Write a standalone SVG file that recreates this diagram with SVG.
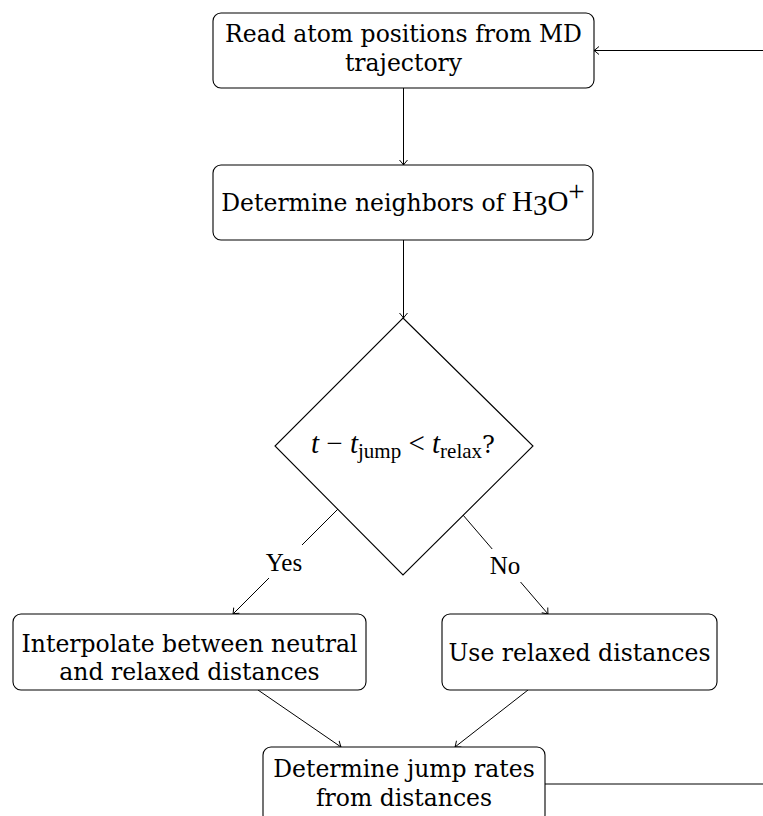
<svg xmlns="http://www.w3.org/2000/svg" width="763" height="816" viewBox="0 0 763 816">
<defs>
<style>
.node{fill:#fff;stroke:#000;stroke-width:1.1}
.lbl{font-family:"DejaVu Serif",serif;font-size:23.5px;fill:#000;text-anchor:middle}
.yn{font-family:"Liberation Serif",serif;font-size:25px;fill:#000;text-anchor:middle}
.math{font-family:"Liberation Serif",serif;font-size:29px;fill:#000}
.edge{fill:none;stroke:#000;stroke-width:1}
</style>
<marker id="arr" markerUnits="userSpaceOnUse" markerWidth="14" markerHeight="14" viewBox="-8 -7 10 14" refX="0" refY="0" orient="auto">
<path d="M-5,-4 Q-1.5,-1 0,0 Q-1.5,1 -5,4" fill="none" stroke="#000" stroke-width="1"/>
</marker>
</defs>
<rect width="763" height="816" fill="#fff"/>
<g id="connectors">
<path class="edge" d="M545,784 H775 V50.5 H594" marker-end="url(#arr)"/>
<line class="edge" x1="403.5" y1="88" x2="403.5" y2="165" marker-end="url(#arr)"/>
<line class="edge" x1="403.5" y1="240" x2="403.5" y2="318" marker-end="url(#arr)"/>
<line class="edge" x1="338" y1="509" x2="233" y2="614" marker-end="url(#arr)"/>
<line class="edge" x1="463" y1="515" x2="548" y2="614" marker-end="url(#arr)"/>
<line class="edge" x1="258" y1="690" x2="341" y2="747" marker-end="url(#arr)"/>
<line class="edge" x1="528" y1="690" x2="455" y2="747" marker-end="url(#arr)"/>
<rect x="262" y="545" width="44" height="33" fill="#fff"/>
<text class="yn" x="284" y="571">Yes</text>
<rect x="486" y="549" width="38" height="33" fill="#fff"/>
<text class="yn" x="505" y="574">No</text>
</g>
<g id="read">
<rect class="node" x="213" y="13" width="381" height="75" rx="8"/>
<text class="lbl" x="403.5" y="42" font-size="24">Read atom positions from MD</text>
<text class="lbl" x="403.5" y="71">trajectory</text>
</g>
<g id="neighbors">
<rect class="node" x="213" y="165" width="380" height="75" rx="8"/>
<text class="lbl" x="403" y="211"><tspan>Determine neighbors of </tspan><tspan class="math" font-size="28">H</tspan><tspan class="math" font-size="19" dy="4">3</tspan><tspan class="math" font-size="28" dy="-4">O</tspan><tspan class="math" font-size="19" dy="-10">+</tspan></text>
</g>
<g id="decision">
<polygon class="node" points="403,318 533,446 403,575 275,446"/>
<text class="math" x="403" y="453" text-anchor="middle"><tspan font-style="italic">t</tspan><tspan> − </tspan><tspan font-style="italic">t</tspan><tspan font-size="21" dy="5">jump</tspan><tspan dy="-5"> &lt; </tspan><tspan font-style="italic">t</tspan><tspan font-size="21" dy="5">relax</tspan><tspan dy="-5" font-family="DejaVu Serif" font-size="24">?</tspan></text>
</g>
<g id="interpolate">
<rect class="node" x="13" y="614" width="353" height="76" rx="8"/>
<text class="lbl" x="189.5" y="652">Interpolate between neutral</text>
<text class="lbl" x="189.5" y="680">and relaxed distances</text>
</g>
<g id="relaxed">
<rect class="node" x="442" y="614" width="275" height="76" rx="8"/>
<text class="lbl" x="579.5" y="661">Use relaxed distances</text>
</g>
<g id="jumprates">
<rect class="node" x="263" y="747" width="282" height="76" rx="8"/>
<text class="lbl" x="404" y="777">Determine jump rates</text>
<text class="lbl" x="404" y="806">from distances</text>
</g>
</svg>
